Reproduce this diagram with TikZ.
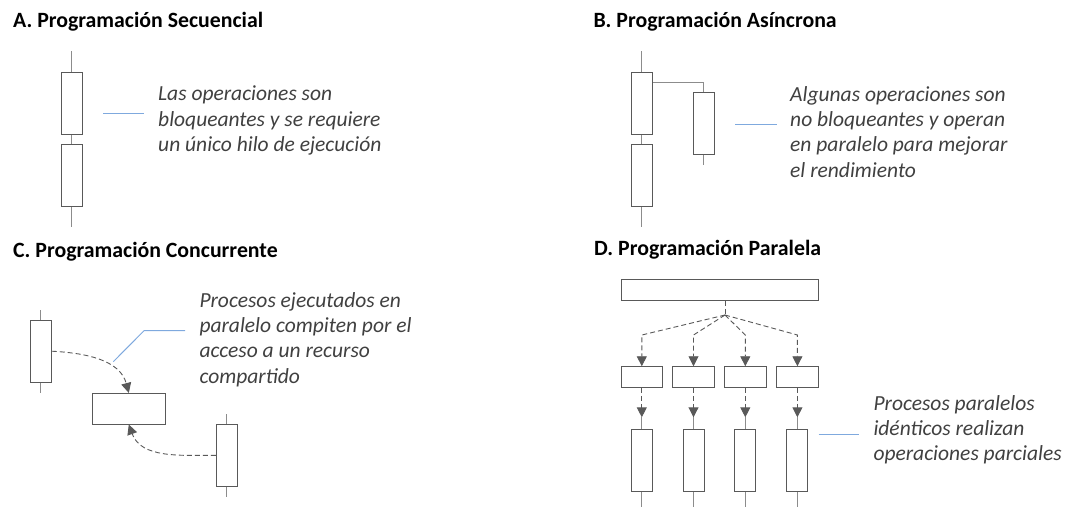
\documentclass[tikz,border=0pt]{standalone}
\usepackage{fontspec}
\setmainfont{Carlito}
\usetikzlibrary{arrows.meta}
\definecolor{boxgray}{HTML}{595959}
\definecolor{threadgray}{HTML}{8C8C8C}
\definecolor{notegray}{HTML}{404040}
\definecolor{leaderblue}{HTML}{7FA9DE}
\tikzstyle{proc} = [draw=boxgray, line width=0.9pt, rectangle, inner sep=0pt, minimum width=21pt, minimum height=62pt]
\tikzstyle{slot} = [proc, minimum width=41.5pt, minimum height=20.6pt]
\tikzstyle{thread} = [draw=threadgray, line width=1pt]
\tikzstyle{fork} = [draw=boxgray, line width=0.9pt, dash pattern=on 5pt off 3pt]
\tikzstyle{flow} = [fork, -{Triangle[length=10pt, width=10pt]}]
\tikzstyle{leader} = [draw=leaderblue, line width=1pt]
\tikzstyle{title} = [anchor=base west, inner sep=0pt, font=\bfseries\fontsize{21.8}{25}\selectfont]
\tikzstyle{note} = [anchor=north west, align=left, inner sep=0pt, text=notegray, font=\itshape\fontsize{21.5}{25.3}\selectfont]

\begin{document}
\begin{tikzpicture}[x=1pt, y=-1pt]
    \useasboundingbox (0,0) rectangle (1070,507);

    % A. secuencial
    \node[title] (ta) at (13, 27) {A. Programación Secuencial};
    \node[proc] (a1) at (71.8, 103.3) {};
    \node[proc] (a2) at (71.8, 175.3) {};
    \coordinate (a0) at (71.8, 51);
    \coordinate (a3) at (71.8, 227);
    \path [thread] (a0) -- (a1.north);
    \path [thread] (a1.south) -- (a2.north);
    \path [thread] (a2.south) -- (a3);
    \coordinate (la1) at (103, 113.5);
    \coordinate (la2) at (144, 113.5);
    \path [leader] (la1) -- (la2);
    \node[note] (na) at (158, 86) {Las operaciones son\\bloqueantes y se requiere\\un único hilo de ejecución};

    % B. asincrona
    \node[title] (tb) at (593.3, 27) {B. Programación Asíncrona};
    \node[proc] (b1) at (641.8, 103.3) {};
    \node[proc] (b2) at (641.8, 175.3) {};
    \node[proc] (b3) at (703.8, 123.3) {};
    \coordinate (b0) at (641.8, 51);
    \coordinate (b4) at (641.8, 227);
    \coordinate (bk) at (703.8, 82.3);
    \coordinate (b5) at (703.8, 165);
    \path [thread] (b0) -- (b1.north);
    \path [thread] (b1.south) -- (b2.north);
    \path [thread] (b2.south) -- (b4);
    \path [thread] (b1.east |- bk) -- (bk) -- (b3.north);
    \path [thread] (b3.south) -- (b5);
    \coordinate (lb1) at (735, 124);
    \coordinate (lb2) at (776.7, 124);
    \path [leader] (lb1) -- (lb2);
    \node[note] (nb) at (790, 86) {Algunas operaciones son\\no bloqueantes y operan\\en paralelo para mejorar\\el rendimiento};

    % C. concurrente
    \node[title] (tc) at (13, 257) {C. Programación Concurrente};
    \node[proc] (c1) at (40.8, 351.2) {};
    \node[proc, minimum width=73pt, minimum height=30.7pt] (res) at (128.8, 408.7) {};
    \node[proc] (c2) at (226.8, 455.3) {};
    \coordinate (c0) at (40.8, 310);
    \coordinate (c3) at (40.8, 393.3);
    \coordinate (c4) at (226.8, 414);
    \coordinate (c5) at (226.8, 496.7);
    \path [thread] (c0) -- (c1.north);
    \path [thread] (c1.south) -- (c3);
    \path [thread] (c4) -- (c2.north);
    \path [thread] (c2.south) -- (c5);
    \path [flow] (c1.east) to[out=-3, in=105] (res.north);
    \path [flow] (c2.west) to[out=180, in=-70] (res.south);
    \coordinate (lc1) at (113.3, 361.7);
    \coordinate (lc2) at (144, 330.7);
    \coordinate (lc3) at (185, 330.7);
    \path [leader] (lc1) -- (lc2) -- (lc3);
    \node[note] (nc) at (199.3, 292) {Procesos ejecutados en\\paralelo compiten por el\\acceso a un recurso\\compartido};

    % D. paralela
    \node[title] (td) at (594, 255) {D. Programación Paralela};
    \node[proc, minimum width=197.4pt, minimum height=21pt] (top) at (720, 289.8) {};
    \coordinate (hub) at (725, 315);
    \path [fork] (top.south -| hub) -- (hub);

    \node[slot] (s1) at (641.8, 377) {};
    \node[slot] (s2) at (693.5, 377) {};
    \node[slot] (s3) at (745.3, 377) {};
    \node[slot] (s4) at (797.4, 377) {};
    \node[proc] (p1) at (641.8, 460.3) {};
    \node[proc] (p2) at (693.5, 460.3) {};
    \node[proc] (p3) at (745.3, 460.3) {};
    \node[proc] (p4) at (797.4, 460.3) {};

    \coordinate (k1) at (641.8, 335);
    \coordinate (k2) at (693.5, 335);
    \coordinate (k3) at (745.3, 335);
    \coordinate (k4) at (797.4, 335);
    \coordinate (m1) at (641.8, 417.3);
    \coordinate (m2) at (693.5, 417.3);
    \coordinate (m3) at (745.3, 417.3);
    \coordinate (m4) at (797.4, 417.3);
    \coordinate (e1) at (641.8, 507);
    \coordinate (e2) at (693.5, 507);
    \coordinate (e3) at (745.3, 507);
    \coordinate (e4) at (797.4, 507);

    \path [flow] (hub) -- (k1) -- (s1.north);
    \path [flow] (hub) -- (k2) -- (s2.north);
    \path [flow] (hub) -- (k3) -- (s3.north);
    \path [flow] (hub) -- (k4) -- (s4.north);
    \path [flow] (s1.south) -- (m1);
    \path [flow] (s2.south) -- (m2);
    \path [flow] (s3.south) -- (m3);
    \path [flow] (s4.south) -- (m4);
    \path [thread] (m1) -- (p1.north);
    \path [thread] (m2) -- (p2.north);
    \path [thread] (m3) -- (p3.north);
    \path [thread] (m4) -- (p4.north);
    \path [thread] (p1.south) -- (e1);
    \path [thread] (p2.south) -- (e2);
    \path [thread] (p3.south) -- (e3);
    \path [thread] (p4.south) -- (e4);

    \coordinate (ld1) at (818.7, 434.3);
    \coordinate (ld2) at (859.3, 434.3);
    \path [leader] (ld1) -- (ld2);
    \node[note] (nd) at (873.3, 395) {Procesos paralelos\\idénticos realizan\\operaciones parciales};

  \end{tikzpicture}
\end{document}
